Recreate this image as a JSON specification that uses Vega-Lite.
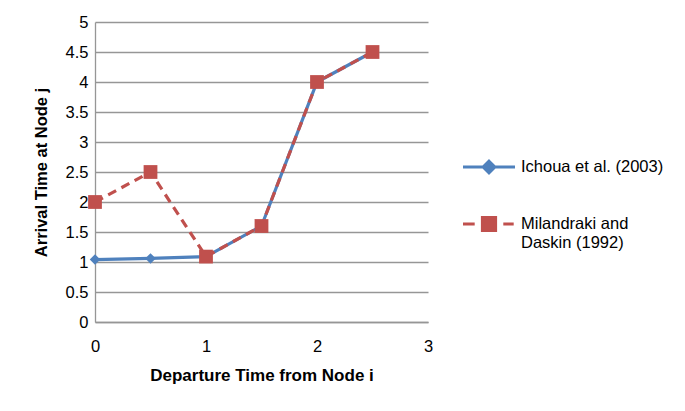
{
  "$schema": "https://vega.github.io/schema/vega-lite/v6.json",
  "width": 333,
  "height": 300,
  "autosize": {"type": "none"},
  "padding": {"left": 95, "top": 22, "right": 257, "bottom": 89},
  "background": "white",
  "config": {
    "view": {"stroke": null},
    "font": "Liberation Sans"
  },
  "data": {
    "values": [
      {"series": "Ichoua et al. (2003)", "x": 0, "y": 1.04},
      {"series": "Ichoua et al. (2003)", "x": 0.5, "y": 1.06},
      {"series": "Ichoua et al. (2003)", "x": 1, "y": 1.09},
      {"series": "Ichoua et al. (2003)", "x": 1.5, "y": 1.6},
      {"series": "Ichoua et al. (2003)", "x": 2, "y": 4},
      {"series": "Ichoua et al. (2003)", "x": 2.5, "y": 4.5},
      {"series": "Milandraki and Daskin (1992)", "x": 0, "y": 2},
      {"series": "Milandraki and Daskin (1992)", "x": 0.5, "y": 2.5},
      {"series": "Milandraki and Daskin (1992)", "x": 1, "y": 1.09},
      {"series": "Milandraki and Daskin (1992)", "x": 1.5, "y": 1.6},
      {"series": "Milandraki and Daskin (1992)", "x": 2, "y": 4},
      {"series": "Milandraki and Daskin (1992)", "x": 2.5, "y": 4.5}
    ]
  },
  "encoding": {
    "x": {
      "field": "x", "type": "quantitative",
      "scale": {"domain": [0, 3], "nice": false},
      "axis": {
        "values": [0, 1, 2, 3], "grid": false, "ticks": false, "format": "~g", "labelFlush": false,
        "domain": true, "domainColor": "#969696", "domainWidth": 1.3,
        "labelFontSize": 16.5, "labelColor": "#000", "labelPadding": 16,
        "title": "Departure Time from Node i", "titleFontSize": 17,
        "titleFontWeight": "bold", "titleColor": "#000", "titlePadding": 13
      }
    },
    "y": {
      "field": "y", "type": "quantitative",
      "scale": {"domain": [0, 5], "nice": false},
      "axis": {
        "values": [0, 0.5, 1, 1.5, 2, 2.5, 3, 3.5, 4, 4.5, 5], "format": "~g",
        "grid": true, "gridColor": "#969696", "gridWidth": 1.3,
        "ticks": false, "domain": true, "domainColor": "#969696", "domainWidth": 1.3,
        "labelFontSize": 16.5, "labelColor": "#000", "labelPadding": 7,
        "title": "Arrival Time at Node j", "titleFontSize": 16.5,
        "titleFontWeight": "bold", "titleColor": "#000", "titlePadding": 16
      }
    },
    "color": {
      "field": "series", "type": "nominal",
      "scale": {"domain": ["Ichoua et al. (2003)", "Milandraki and Daskin (1992)"], "range": ["#4F81BD", "#C0504D"]},
      "legend": null
    }
  },
  "layer": [
    {
      "transform": [{"filter": "datum.series == 'Ichoua et al. (2003)'"}],
      "mark": {"type": "line", "strokeWidth": 3.2},
      "encoding": {
        "color": {
          "field": "series", "type": "nominal",
          "scale": {"domain": ["Ichoua et al. (2003)", "Milandraki and Daskin (1992)"], "range": ["#4F81BD", "#C0504D"]},
          "legend": {
            "orient": "none", "legendX": 366, "legendY": 117, "title": null,
            "symbolType": "M-1,0H1", "symbolSize": 2704, "symbolStrokeWidth": 3.2,
            "labelFontSize": 16.5, "labelColor": "#000", "labelOffset": 4, "rowPadding": 16,
            "labelExpr": "datum.value == 'Milandraki and Daskin (1992)' ? ['Milandraki and', 'Daskin (1992)'] : datum.value",
            "labelLimit": 300,
            "encode": {
              "symbols": {"update": {
                "shape": {"signal": "datum.value == 'Ichoua et al. (2003)' ? 'M-1,0H1M0,-0.22L0.22,0L0,0.22L-0.22,0Z' : 'M-1,0H-0.55M0.55,0H0.95M-0.25,-0.25H0.25V0.25H-0.25Z'"},
                "fill": {"signal": "datum.value == 'Ichoua et al. (2003)' ? '#4F81BD' : '#C0504D'"},
                "stroke": {"signal": "datum.value == 'Ichoua et al. (2003)' ? '#4F81BD' : '#C0504D'"}
              }}
            }
          }
        }
      }
    },
    {
      "transform": [{"filter": "datum.series == 'Ichoua et al. (2003)'"}],
      "mark": {"type": "point", "shape": "diamond", "filled": true, "opacity": 1, "size": 110}
    },
    {
      "transform": [{"filter": "datum.series == 'Milandraki and Daskin (1992)'"}],
      "mark": {"type": "line", "strokeWidth": 3.2, "strokeDash": [9, 6]}
    },
    {
      "transform": [{"filter": "datum.series == 'Milandraki and Daskin (1992)'"}],
      "mark": {"type": "point", "shape": "square", "filled": true, "opacity": 1, "size": 190}
    }
  ]
}
